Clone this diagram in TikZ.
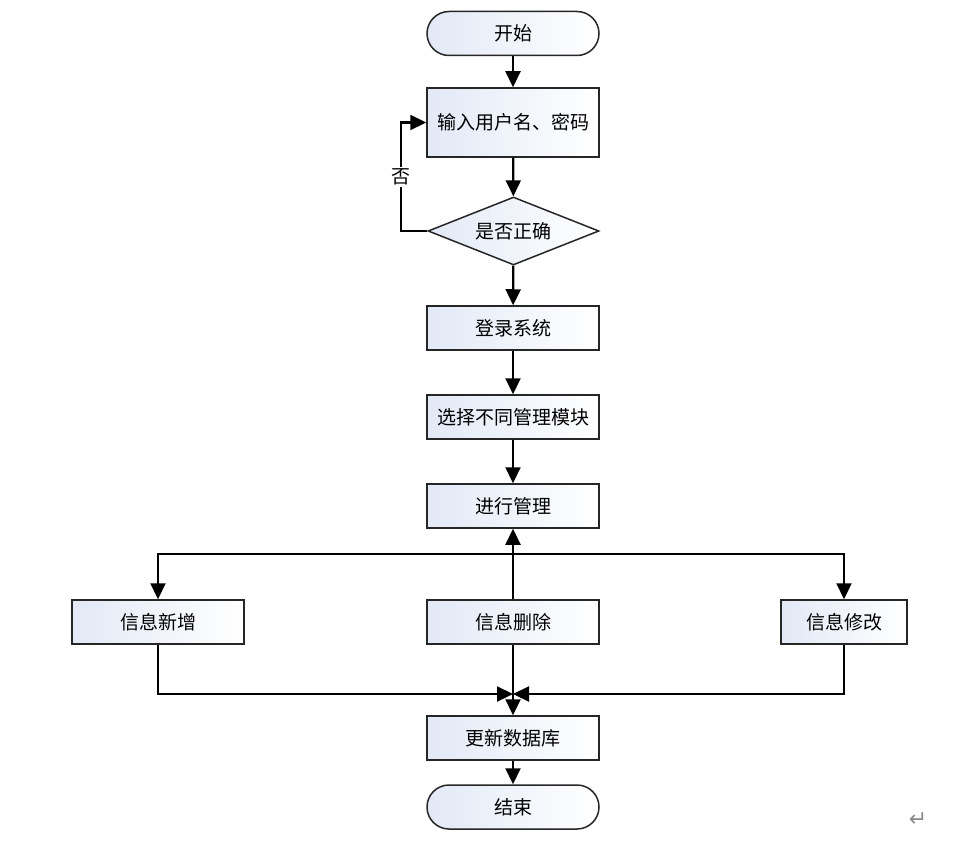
\documentclass[tikz,border=0pt]{standalone}
\usepackage{fontspec}
\newfontfamily\cjk{Noto Sans CJK SC}
\newfontfamily\dejavu{DejaVu Sans}
\usetikzlibrary{shapes.geometric,arrows.meta}
\definecolor{fillblue}{RGB}{226,233,246}
\begin{document}
\begin{tikzpicture}[x=1pt,y=-1pt,
 box/.style={draw=black!85, line width=1.5pt, left color=fillblue, right color=white, minimum width=172pt, minimum height=44pt, inner sep=0pt, font=\cjk\fontsize{19}{21}\selectfont, text=black},
 term/.style={box, rounded corners=22pt},
 dec/.style={box, diamond, aspect=2.5, minimum width=171pt, minimum height=68pt},
 conn/.style={line width=2.2pt, draw=black, -{Triangle[length=16pt,width=15pt]}},
 lbl/.style={fill=white, inner sep=2pt, font=\cjk\fontsize{19}{21}\selectfont}]
\useasboundingbox (0,0) rectangle (972,845);
\node[term] (start) at (513,33.5) {开始};
\node[box, minimum height=69pt] (input) at (513,122.5) {输入用户名、密码};
\node[dec] (check) at (513.5,231) {是否正确};
\node[box] (login) at (513,328) {登录系统};
\node[box] (select) at (513,417) {选择不同管理模块};
\node[box] (manage) at (513,506) {进行管理};
\node[box] (add) at (158,622) {信息新增};
\node[box] (del) at (513,622) {信息删除};
\node[box, minimum width=126pt] (mod) at (844,622) {信息修改};
\node[box] (upd) at (513,738) {更新数据库};
\node[term] (end) at (513,807) {结束};
\coordinate (split) at (513,554);
\coordinate (merge) at (513,694);
\coordinate (loop) at (401,231);
\draw[conn] (start) -- (input);
\draw[conn] (input) -- (check);
\draw[conn] (check) -- (login);
\draw[conn] (login) -- (select);
\draw[conn] (select) -- (manage);
\draw[conn] (check.west) -- (loop) |- node[lbl, pos=0.25] (nolbl) {否} (input.west);
\draw[conn] (del) -- (manage);
\draw[conn] (split) -| (add.north);
\draw[conn] (split) -| (mod.north);
\draw[conn] (add.south) |- (merge);
\draw[conn] (mod.south) |- (merge);
\draw[conn] (del) -- (upd);
\draw[conn] (upd) -- (end);
\node[text=black!45, font=\dejavu\fontsize{22}{22}\selectfont] (mark) at (918,820) {↵};
\end{tikzpicture}
\end{document}
